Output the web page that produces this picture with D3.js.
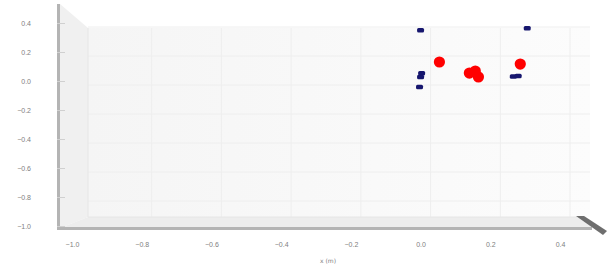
<!DOCTYPE html>
<html lang="en">
<head>
<meta charset="UTF-8">
<title>Scatter x-y</title>
<script src="https://d3js.org/d3.v7.min.js"></script>
<style>
  body { margin: 0; background: #fff; }
  svg { display: block; font-family: "DejaVu Sans", sans-serif; }
  .tick text { fill: #808080; font-size: 7px; }
</style>
</head>
<body>
<svg id="chart" width="612" height="267"></svg>
<script>
// tick labels
const xTicks = [-1.0, -0.8, -0.6, -0.4, -0.2, 0.0, 0.2, 0.4];
const yTicks = [0.4, 0.2, 0.0, -0.2, -0.4, -0.6, -0.8, -1.0];

// blue markers (x, y in m)
const blueX = [0.000, 0.306, 0.003, 0.000, -0.003, 0.266, 0.280];
const blueY = [0.352, 0.366, 0.055, 0.030, -0.040, 0.032, 0.036];

// red markers
const redX = [0.054, 0.140, 0.157, 0.166, 0.286];
const redY = [0.131, 0.055, 0.069, 0.028, 0.117];

const svg = d3.select("#chart");

const x = d3.scaleLinear().domain([-1.0, 0.4]).range([72, 560]);
const y = d3.scaleLinear().domain([-1.0, 0.4]).range([226, 23]);

// box faces
const defs = svg.append("defs");
const g1 = defs.append("linearGradient").attr("id", "back").attr("x1", 0).attr("x2", 1);
g1.append("stop").attr("offset", 0).attr("stop-color", "#f5f5f5");
g1.append("stop").attr("offset", 1).attr("stop-color", "#fcfcfc");

svg.append("rect").attr("x", 88).attr("y", 28).attr("width", 502).attr("height", 189)
  .attr("fill", "url(#back)");
svg.append("path").attr("d", "M60,4 L88,28 L88,217 L60,228 Z").attr("fill", "#f0f0f0");
svg.append("path").attr("d", "M60,228 L88,217 L582,217 L592,228 Z").attr("fill", "#ededed");

// grid
svg.append("g").selectAll("line").data(xTicks.slice(1)).join("line")
  .attr("x1", d => x(d) + 10).attr("x2", d => x(d) + 10)
  .attr("y1", 28).attr("y2", 217)
  .attr("stroke", "#eeeeee").attr("stroke-width", 1);
svg.append("g").selectAll("line").data(yTicks.slice(0, -1)).join("line")
  .attr("x1", 88).attr("x2", 590)
  .attr("y1", d => y(d) + 4).attr("y2", d => y(d) + 4)
  .attr("stroke", "#eeeeee").attr("stroke-width", 1);

// box edges
svg.append("line").attr("x1", 58.5).attr("x2", 58.5).attr("y1", 4).attr("y2", 229)
  .attr("stroke", "#b4b4b4").attr("stroke-width", 3);
svg.append("line").attr("x1", 57).attr("x2", 592).attr("y1", 228.5).attr("y2", 228.5)
  .attr("stroke", "#b4b4b4").attr("stroke-width", 3);
svg.append("line").attr("x1", 88).attr("x2", 88).attr("y1", 28).attr("y2", 217)
  .attr("stroke", "#e6e6e6");
svg.append("line").attr("x1", 88).attr("x2", 582).attr("y1", 217).attr("y2", 217)
  .attr("stroke", "#e6e6e6");
svg.append("path").attr("d", "M576,216 L584,216 L607,231 L603,235 Z")
  .attr("fill", "#555").attr("opacity", 0.85);

// axes
svg.append("g").attr("transform", "translate(57,0)")
  .call(d3.axisLeft(y).tickValues(yTicks).tickFormat(d3.format(".1f")).tickSize(-8).tickPadding(26))
  .call(g => g.select(".domain").remove())
  .call(g => g.selectAll(".tick line").attr("stroke", "#d0d0d0"));

svg.append("g").attr("transform", "translate(0,238)")
  .call(d3.axisBottom(x).tickValues(xTicks).tickFormat(d3.format(".1f")).tickSize(0).tickPadding(4))
  .call(g => g.select(".domain").remove());

svg.append("text").attr("x", 328).attr("y", 263).attr("text-anchor", "middle")
  .attr("font-size", 6).attr("fill", "#808080").text("x (m)");

// markers
const blue = blueX.map((v, i) => ({ x: v, y: blueY[i] }));
const red = redX.map((v, i) => ({ x: v, y: redY[i] }));

svg.append("g").selectAll("rect").data(blue).join("rect")
  .attr("x", d => x(d.x) - 3.5).attr("y", d => y(d.y) - 2)
  .attr("width", 7).attr("height", 4.5).attr("rx", 1.5)
  .attr("fill", "#16166e");

svg.append("g").selectAll("circle").data(red).join("circle")
  .attr("cx", d => x(d.x)).attr("cy", d => y(d.y)).attr("r", 5.6)
  .attr("fill", "#ff0000");
</script>
</body>
</html>
